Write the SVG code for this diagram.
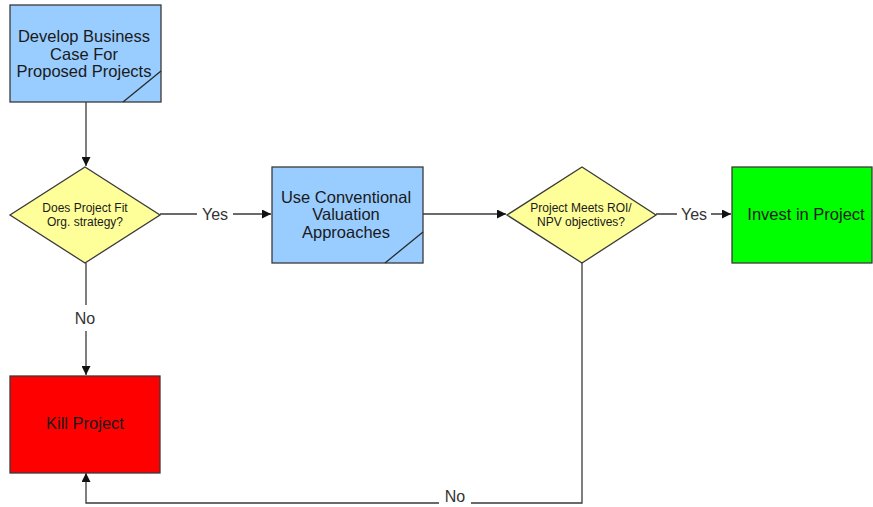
<svg xmlns="http://www.w3.org/2000/svg" width="873" height="507" viewBox="0 0 873 507">
  <style>
    .box { stroke: #3a3a3a; stroke-width: 1.3; }
    .proc { fill: #99ccff; }
    .dec { fill: #ffff99; }
    .fold { fill: none; stroke: #2a2a2a; stroke-width: 1.3; }
    .lbl { font-family: "Liberation Sans", Arial, sans-serif; font-size: 16.5px; fill: #1a1a1a; text-anchor: middle; }
    .small { font-family: "Liberation Sans", Arial, sans-serif; font-size: 12px; fill: #1a1a1a; text-anchor: middle; }
    .edge { fill: none; stroke: #3a3a3a; stroke-width: 1.3; }
    .elbl { font-family: "Liberation Sans", Arial, sans-serif; font-size: 16px; fill: #333; text-anchor: middle; }
  </style>
  <defs>
    <marker id="arrow" viewBox="0 0 10 10" refX="10" refY="5" markerWidth="10" markerHeight="9" markerUnits="userSpaceOnUse" orient="auto">
      <path d="M0,0 L10,5 L0,10 Z" fill="#111"/>
    </marker>
  </defs>
  <rect x="0" y="0" width="873" height="507" fill="#ffffff"/>

  <g id="connectors">
    <path class="edge" d="M86,102 V166" marker-end="url(#arrow)"/>
    <path class="edge" d="M160,214 H197 M233,214 H271" marker-end="url(#arrow)"/>
    <path class="edge" d="M422,214 H506" marker-end="url(#arrow)"/>
    <path class="edge" d="M656,214 H677 M711,214 H731" marker-end="url(#arrow)"/>
    <path class="edge" d="M86,263 V305 M86,331 V375" marker-end="url(#arrow)"/>
    <path class="edge" d="M582,263 V503 H471 M439,503 H86 V473" marker-end="url(#arrow)"/>
    <text class="elbl" x="215" y="220">Yes</text>
    <text class="elbl" x="694" y="220">Yes</text>
    <text class="elbl" x="85" y="324">No</text>
    <text class="elbl" x="455" y="502" font-size="15">No</text>
  </g>

  <g id="develop-case">
    <rect class="box proc" x="10" y="5" width="151" height="97"/>
    <path class="fold" d="M161,71 L123,102"/>
    <text class="lbl" x="84" y="42">Develop Business</text>
    <text class="lbl" x="84" y="60">Case For</text>
    <text class="lbl" x="84" y="77">Proposed Projects</text>
  </g>

  <g id="fit-strategy">
    <polygon class="box dec" points="85,167 160,215 85,263 10,215"/>
    <text class="small" x="85" y="212">Does Project Fit</text>
    <text class="small" x="85" y="226">Org. strategy?</text>
  </g>

  <g id="conventional-valuation">
    <rect class="box proc" x="272" y="167" width="151" height="96"/>
    <path class="fold" d="M423,232 L385,263"/>
    <text class="lbl" x="346" y="203">Use Conventional</text>
    <text class="lbl" x="346" y="220">Valuation</text>
    <text class="lbl" x="346" y="238">Approaches</text>
  </g>

  <g id="meets-roi">
    <polygon class="box dec" points="582,167 656,215 582,263 507,215"/>
    <text class="small" x="581" y="212">Project Meets ROI/</text>
    <text class="small" x="581" y="226">NPV objectives?</text>
  </g>

  <g id="invest">
    <rect class="box" fill="#00ff00" x="732" y="167" width="140" height="96"/>
    <text class="lbl" x="806" y="220">Invest in Project</text>
  </g>

  <g id="kill">
    <rect class="box" fill="#ff0000" x="10" y="376" width="150" height="97"/>
    <text class="lbl" x="85" y="429">Kill Project</text>
  </g>
</svg>
